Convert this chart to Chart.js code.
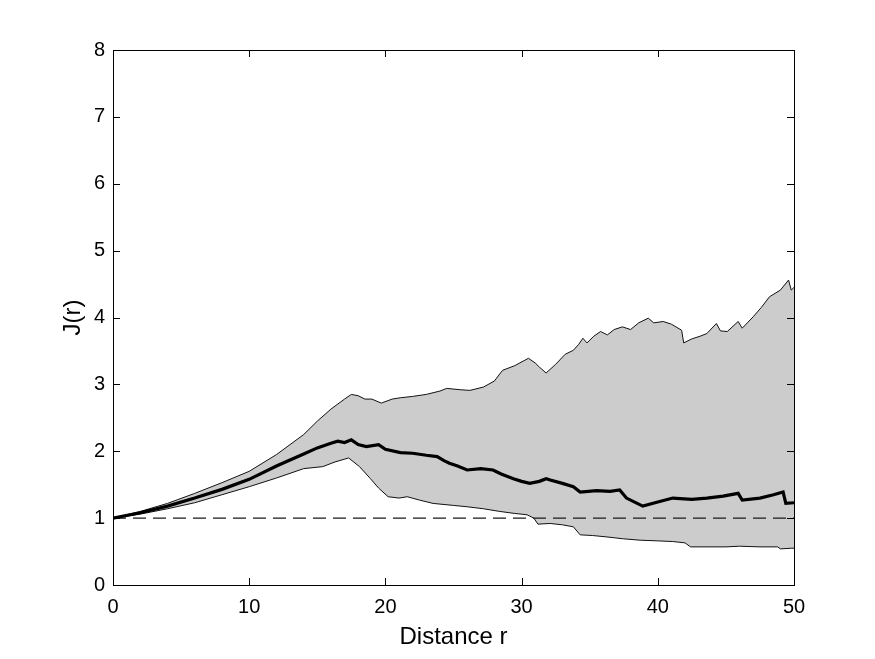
<!DOCTYPE html>
<html>
<head>
<meta charset="utf-8">
<title>J(r)</title>
<script src="https://cdn.jsdelivr.net/npm/chart.js@4/dist/chart.umd.min.js"></script>
<style>
  html, body { margin: 0; padding: 0; background: #fff; }
  #wrap { width: 875px; height: 659px; }
</style>
</head>
<body>
<div id="wrap"><canvas id="chart"></canvas></div>
<script>
// upper envelope
const upperR = [0, 2, 4, 6, 8, 10, 12, 14, 15, 16, 17, 17.5, 18, 18.5, 19, 19.7, 20.5, 21.1, 22, 23, 24, 24.5, 25.5, 26.2, 27.2, 28, 28.6, 29.5, 30.5, 31, 31.3, 31.8, 32.5, 33.2, 33.8, 34.2, 34.5, 34.8, 35.3, 35.8, 36.3, 36.8, 37.4, 38, 38.6, 39.3, 39.7, 40.4, 41, 41.75, 41.9, 42.5, 43.1, 43.6, 44.3, 44.6, 45.1, 45.9, 46.2, 47, 47.6, 48.2, 49, 49.6, 49.8, 50];
const upperJ = [1, 1.1, 1.22, 1.37, 1.53, 1.7, 1.95, 2.25, 2.45, 2.63, 2.78, 2.85, 2.83, 2.78, 2.78, 2.72, 2.78, 2.8, 2.82, 2.85, 2.9, 2.94, 2.92, 2.91, 2.96, 3.05, 3.21, 3.28, 3.39, 3.32, 3.26, 3.17, 3.3, 3.45, 3.51, 3.6, 3.69, 3.62, 3.72, 3.79, 3.74, 3.82, 3.86, 3.82, 3.92, 3.99, 3.92, 3.94, 3.9, 3.81, 3.62, 3.68, 3.72, 3.76, 3.91, 3.8, 3.79, 3.94, 3.84, 4.01, 4.15, 4.31, 4.41, 4.56, 4.41, 4.45];

// mean curve
const meanR = [0, 2, 4, 6, 8, 10, 12, 14, 15, 16, 16.5, 17, 17.5, 18, 18.6, 19.5, 20, 21.1, 22, 23, 23.8, 24.3, 24.7, 25.3, 26, 27, 27.9, 28.5, 29.4, 30, 30.6, 31.3, 31.8, 32.1, 33, 33.8, 34.3, 35.5, 36.5, 37.2, 37.7, 38.3, 38.9, 40, 41.1, 42.5, 43.6, 44.8, 45.9, 46.2, 47.5, 48.5, 49.2, 49.4, 50];
const meanJ = [1, 1.08, 1.18, 1.3, 1.43, 1.58, 1.78, 1.96, 2.05, 2.12, 2.15, 2.13, 2.17, 2.1, 2.07, 2.1, 2.03, 1.98, 1.97, 1.94, 1.92, 1.86, 1.82, 1.78, 1.72, 1.74, 1.72, 1.66, 1.59, 1.55, 1.52, 1.55, 1.59, 1.57, 1.52, 1.47, 1.39, 1.41, 1.4, 1.42, 1.3, 1.24, 1.18, 1.24, 1.3, 1.28, 1.3, 1.33, 1.37, 1.27, 1.3, 1.35, 1.39, 1.22, 1.23];

// lower envelope
const lowerR = [0, 2, 4, 6, 8, 10, 12, 14, 15.4, 16.3, 17.3, 18.1, 18.9, 19.5, 20.2, 21, 21.6, 22.5, 23.5, 25, 26, 27.2, 28.4, 29.5, 30.4, 30.9, 31.2, 32.1, 33, 33.8, 34.3, 35.2, 36.2, 37.5, 38.7, 40, 41.1, 42, 42.4, 43.6, 45, 46, 47.5, 48.8, 49, 49.8, 50];
const lowerJ = [1, 1.06, 1.14, 1.23, 1.35, 1.47, 1.6, 1.74, 1.77, 1.84, 1.9, 1.77, 1.59, 1.45, 1.32, 1.3, 1.32, 1.27, 1.22, 1.19, 1.17, 1.14, 1.1, 1.07, 1.05, 1.0, 0.91, 0.92, 0.9, 0.87, 0.75, 0.74, 0.72, 0.69, 0.67, 0.66, 0.65, 0.63, 0.57, 0.57, 0.57, 0.58, 0.57, 0.57, 0.54, 0.55, 0.55];

// reference line J = 1
const refR = [0, 50];
const refJ = [1, 1];

const xTicks = [0, 10, 20, 30, 40, 50];
const yTicks = [0, 1, 2, 3, 4, 5, 6, 7, 8];

function pts(xs, ys) {
  return xs.map((x, i) => ({ x: x, y: ys[i] }));
}

// box round the plot with inward ticks on all four sides
const boxTicks = {
  id: "boxTicks",
  afterDatasetsDraw(chart) {
    const { ctx, chartArea: a, scales } = chart;
    const len = 7;
    ctx.save();
    ctx.strokeStyle = "#000";
    ctx.lineWidth = 1;
    ctx.beginPath();
    xTicks.forEach(v => {
      const px = Math.round(scales.x.getPixelForValue(v)) + 0.5;
      ctx.moveTo(px, a.bottom); ctx.lineTo(px, a.bottom - len);
      ctx.moveTo(px, a.top); ctx.lineTo(px, a.top + len);
    });
    yTicks.forEach(v => {
      const py = Math.round(scales.y.getPixelForValue(v)) + 0.5;
      ctx.moveTo(a.left, py); ctx.lineTo(a.left + len, py);
      ctx.moveTo(a.right, py); ctx.lineTo(a.right - len, py);
    });
    ctx.stroke();
    ctx.strokeRect(Math.round(a.left) + 0.5, Math.round(a.top) + 0.5,
      Math.round(a.right - a.left), Math.round(a.bottom - a.top));
    ctx.restore();
  }
};

new Chart(document.getElementById("chart"), {
  type: "line",
  data: {
    datasets: [
      {
        label: "mean",
        data: pts(meanR, meanJ),
        borderColor: "#000",
        borderWidth: 3.2,
        pointRadius: 0,
        fill: false,
        order: 0
      },
      {
        label: "J = 1",
        data: pts(refR, refJ),
        borderColor: "#1a1a1a",
        borderWidth: 1.2,
        borderDash: [13, 7],
        pointRadius: 0,
        fill: false,
        order: 1
      },
      {
        label: "upper",
        data: pts(upperR, upperJ),
        borderColor: "#111",
        borderWidth: 1,
        pointRadius: 0,
        backgroundColor: "#cccccc",
        fill: 3,
        order: 3
      },
      {
        label: "lower",
        data: pts(lowerR, lowerJ),
        borderColor: "#111",
        borderWidth: 1,
        pointRadius: 0,
        fill: false,
        order: 2
      }
    ]
  },
  options: {
    responsive: true,
    maintainAspectRatio: false,
    animation: false,
    layout: { padding: { left: 55, right: 81, top: 50, bottom: 3 } },
    plugins: {
      legend: { display: false },
      tooltip: { enabled: false }
    },
    scales: {
      x: {
        type: "linear",
        min: 0,
        max: 50,
        afterBuildTicks: s => { s.ticks = xTicks.map(v => ({ value: v })); },
        afterFit: s => { s.height = 71; },
        grid: { display: false, drawTicks: false },
        border: { display: false },
        ticks: { color: "#000", padding: 10, font: { family: "Liberation Sans, Arial", size: 20 } },
        title: { display: true, text: "Distance r", color: "#000", font: { family: "Liberation Sans, Arial", size: 24 } }
      },
      y: {
        type: "linear",
        min: 0,
        max: 8,
        afterBuildTicks: s => { s.ticks = yTicks.map(v => ({ value: v })); },
        afterFit: s => { s.width = 58; },
        grid: { display: false, drawTicks: false },
        border: { display: false },
        ticks: { color: "#000", padding: 8, font: { family: "Liberation Sans, Arial", size: 20 } },
        title: { display: true, text: "J(r)", color: "#000", font: { family: "Liberation Sans, Arial", size: 24 } }
      }
    }
  },
  plugins: [boxTicks]
});
</script>
</body>
</html>
